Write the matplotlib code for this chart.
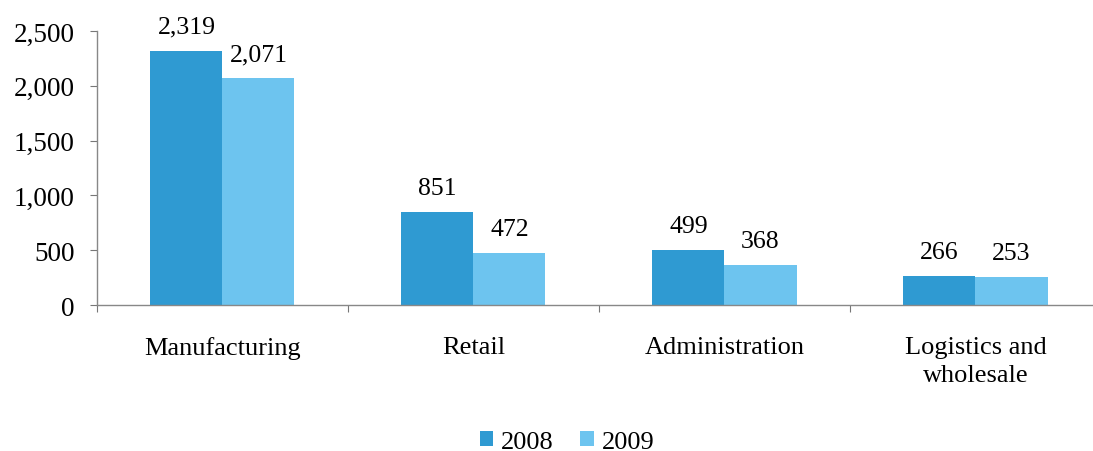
import numpy as np
import matplotlib.pyplot as plt
from matplotlib.ticker import FuncFormatter

plt.rcParams['font.family'] = ['Liberation Serif', 'DejaVu Serif']

categories = ['Manufacturing', 'Retail', 'Administration', 'Logistics and\nwholesale']
years = ['2008', '2009']
values_2008 = [2319, 851, 499, 266]
values_2009 = [2071, 472, 368, 253]

fig = plt.figure(figsize=(10.93, 4.52), dpi=100)
ax = fig.add_axes([0.0887, 0.323, 0.9186, 0.606])

x = np.arange(len(categories))
w = 0.287
b1 = ax.bar(x - w / 2, values_2008, w, color='#2F9AD2', label=years[0])
b2 = ax.bar(x + w / 2, values_2009, w, color='#6DC4EF', label=years[1])

# value labels above the bars
for bars in (b1, b2):
    for r in bars:
        ax.annotate(f'{int(r.get_height()):,}', (r.get_x() + r.get_width() / 2, r.get_height()),
                    xytext=(0, 13), textcoords='offset points',
                    ha='center', va='baseline', fontsize=18.5)

ax.set_xlim(-0.5, 3.5)
ax.set_ylim(0, 2500)
ax.set_yticks(np.arange(0, 2501, 500))
ax.yaxis.set_major_formatter(FuncFormatter(lambda v, p: f'{int(v):,}'))
ax.set_xticks(np.arange(-0.5, 3.6, 1.0))
ax.set_xticklabels([])
ax.set_xticks(x, minor=True)
ax.set_xticklabels(categories, minor=True, fontsize=19, linespacing=1.4)
ax.tick_params(axis='x', which='minor', length=0, pad=22)
ax.tick_params(axis='x', which='major', length=5, color='#777777', direction='out')
ax.tick_params(axis='y', labelsize=19.5, length=5, color='#777777', pad=11)

for s in ['top', 'right']:
    ax.spines[s].set_visible(False)
for s in ['left', 'bottom']:
    ax.spines[s].set_color('#888888')
    ax.spines[s].set_linewidth(1)

fig.legend(handles=[b1, b2], labels=years, loc='center', bbox_to_anchor=(0.519, 0.02),
           ncol=2, frameon=False, fontsize=19, handlelength=0.5, handleheight=0.5,
           handletextpad=0.3, columnspacing=1.0)

fig.savefig('out.png', dpi=100)
